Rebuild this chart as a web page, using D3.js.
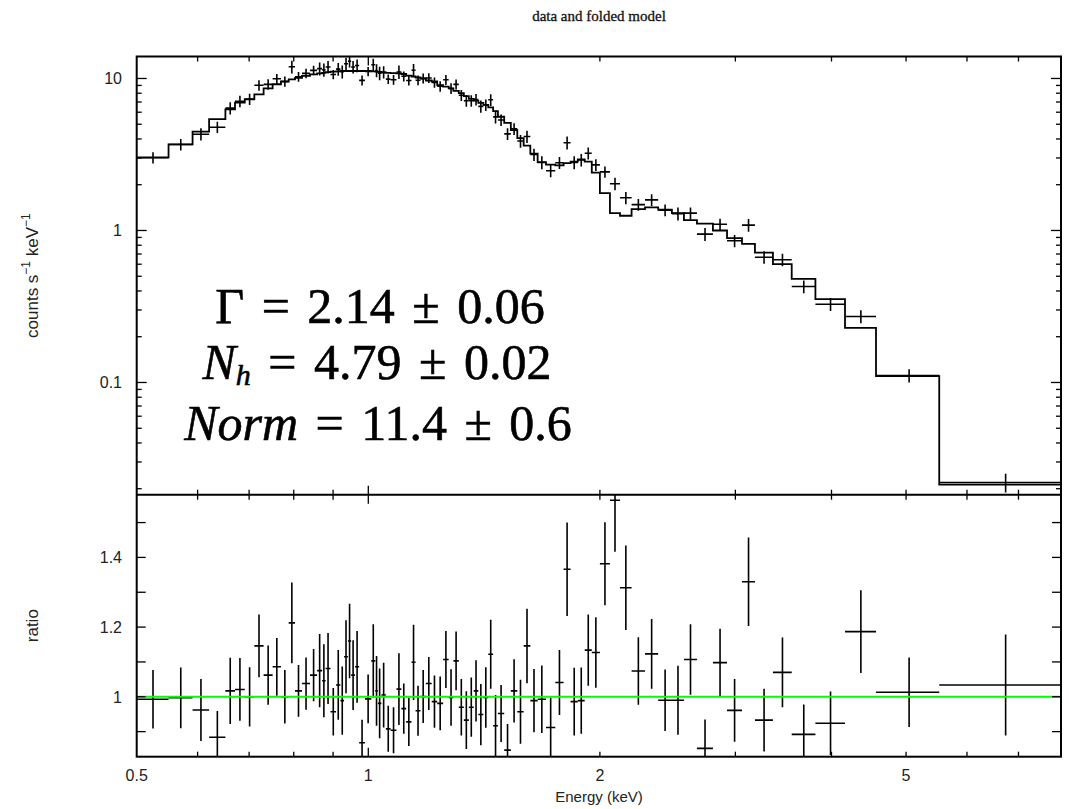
<!DOCTYPE html>
<html><head><meta charset="utf-8">
<script src="https://cdn.jsdelivr.net/npm/d3@7"></script>
<style>body{margin:0;background:#fff}svg{display:block}</style>
</head><body>
<svg id="chart" width="1069" height="809"></svg>
<script>
// ---- data ----
const binEdges = [0.500,0.550,0.591,0.621,0.652,0.671,0.691,0.711,0.731,0.751,0.770,0.788,0.803,0.820,0.840,0.858,0.871,0.880,0.893,0.908,0.920,0.930,0.941,0.950,0.961,0.973,0.990,1.009,1.021,1.029,1.040,1.054,1.069,1.088,1.104,1.120,1.138,1.152,1.169,1.188,1.209,1.229,1.251,1.272,1.290,1.311,1.331,1.351,1.371,1.390,1.411,1.432,1.453,1.474,1.502,1.532,1.562,1.592,1.624,1.660,1.702,1.750,1.794,1.832,1.872,1.911,1.952,2.000,2.061,2.124,2.199,2.289,2.381,2.481,2.572,2.674,2.805,2.926,3.060,3.181,3.357,3.551,3.812,4.165,4.570,5.522,7.950];
const modelRate = [3.03,3.69,4.47,5.41,6.27,6.93,7.30,7.87,8.62,9.16,9.55,9.85,10.1,10.4,10.65,10.8,10.9,11.0,11.1,11.15,11.2,11.2,11.2,11.2,11.2,11.2,11.2,11.15,11.1,11.05,10.95,10.9,10.85,10.8,10.7,10.45,10.3,10.15,10.0,9.7,9.55,9.05,8.85,8.62,8.3,8.0,7.65,7.35,7.15,6.9,6.7,6.45,6.1,5.6,5.1,4.58,4.05,3.62,3.2,2.82,2.71,2.68,2.77,2.84,2.94,2.84,2.40,1.76,1.30,1.25,1.38,1.42,1.37,1.30,1.17,1.11,1.00,0.89,0.816,0.715,0.60,0.48,0.354,0.229,0.11,0.0213];
const countRate = [3.01,3.68,4.30,4.78,6.38,7.08,7.30,9.02,9.15,9.95,9.55,11.94,10.27,10.80,11.31,11.61,11.40,11.89,10.62,11.53,11.08,12.49,12.99,11.89,12.16,9.72,11.13,12.30,11.29,10.84,11.00,9.90,9.81,11.04,10.34,9.70,11.32,9.74,10.01,10.07,9.42,8.88,9.80,8.60,9.15,7.76,7.14,7.13,7.27,6.55,6.69,7.24,5.59,5.33,4.32,4.66,3.88,4.15,3.16,2.80,2.47,2.79,3.78,2.80,2.91,3.22,2.70,2.43,2.03,1.64,1.48,1.59,1.36,1.29,1.30,0.946,1.098,0.855,1.085,0.667,0.642,0.428,0.327,0.272,0.111,0.0220];
const countErr = [0.255,0.321,0.398,0.406,0.596,0.624,0.621,0.708,0.733,0.760,0.735,1.143,0.747,0.780,0.799,1.134,1.145,1.122,0.755,1.115,1.098,1.176,1.198,1.120,1.154,0.739,0.784,1.171,1.110,1.105,1.018,0.719,0.716,1.112,0.770,0.721,1.112,0.731,0.760,0.737,0.716,0.697,0.726,0.698,0.697,0.648,0.635,0.625,0.629,0.607,0.583,0.639,0.537,0.459,0.383,0.417,0.373,0.387,0.291,0.274,0.233,0.249,0.371,0.275,0.279,0.290,0.242,0.209,0.192,0.151,0.134,0.142,0.121,0.129,0.118,0.092,0.097,0.080,0.104,0.064,0.060,0.041,0.032,0.027,0.011,0.0031];
const ratioVal = [0.993,0.997,0.962,0.884,1.017,1.021,1.000,1.146,1.062,1.086,1.000,1.212,1.017,1.038,1.062,1.075,1.046,1.081,0.957,1.034,0.989,1.115,1.160,1.062,1.086,0.868,0.994,1.103,1.017,0.981,1.005,0.908,0.904,1.022,0.966,0.928,1.099,0.960,1.001,1.038,0.986,0.981,1.107,0.998,1.103,0.970,0.933,0.970,1.017,0.949,0.998,1.122,0.917,0.952,0.847,1.017,0.957,1.146,0.989,0.993,0.912,1.041,1.366,0.986,0.989,1.134,1.127,1.382,1.564,1.313,1.074,1.123,0.990,0.990,1.107,0.852,1.098,0.961,1.330,0.933,1.070,0.892,0.924,1.187,1.013,1.034];
const ratioErr = [0.084,0.087,0.089,0.075,0.095,0.090,0.085,0.090,0.085,0.083,0.077,0.116,0.074,0.075,0.075,0.105,0.105,0.102,0.068,0.100,0.098,0.105,0.107,0.100,0.103,0.066,0.070,0.105,0.100,0.100,0.093,0.066,0.066,0.103,0.072,0.069,0.108,0.072,0.076,0.076,0.075,0.077,0.082,0.081,0.084,0.081,0.083,0.085,0.088,0.088,0.087,0.099,0.088,0.082,0.075,0.091,0.092,0.107,0.091,0.097,0.086,0.093,0.134,0.097,0.095,0.102,0.101,0.119,0.148,0.121,0.097,0.100,0.088,0.099,0.101,0.083,0.097,0.090,0.127,0.090,0.100,0.086,0.091,0.119,0.100,0.145];
const xTickValues = [0.5,1,2,5];
const xTickLabels = ["0.5","1","2","5"];
const yTopTickValues = [0.1,1,10];
const yTopTickLabels = ["0.1","1","10"];
const yRatioTickValues = [1,1.2,1.4];
const yRatioTickLabels = ["1","1.2","1.4"];
const fitLines = ["Γ = 2.14 ± 0.06","N_h = 4.79 ± 0.02","Norm = 11.4 ± 0.6"];

// ---- layout ----
const L=136.7, R=1061, T=56.5, M=494.7, B=756.7;
const svg = d3.select("#chart");
const x = d3.scaleLog().domain([0.5,7.95]).range([L,R]);
const yTop = d3.scaleLog().domain([0.01827,13.95]).range([M,T]);
const yRat = d3.scaleLinear().domain([0.828,1.580]).range([B,M]);

const n = Math.min(modelRate.length, countRate.length, ratioVal.length, binEdges.length-1);
const bins = d3.range(n).map(i=>({lo:binEdges[i],hi:binEdges[i+1],c:(binEdges[i]+binEdges[i+1])/2,
  m:modelRate[i],d:countRate[i],de:countErr[i],r:ratioVal[i],re:ratioErr[i]}));

const defs = svg.append("defs");
defs.append("clipPath").attr("id","cTop").append("rect").attr("x",L).attr("y",T).attr("width",R-L).attr("height",M-T);
defs.append("clipPath").attr("id","cBot").append("rect").attr("x",L).attr("y",M).attr("width",R-L).attr("height",B-M);

// title
svg.append("text").attr("x",599).attr("y",21).attr("text-anchor","middle")
  .attr("font-family","Liberation Serif, serif").attr("font-size",15).attr("fill","#111")
  .attr("stroke","#111").attr("stroke-width",0.3)
  .text("data and folded model");

// ---- top panel ----
const gTop = svg.append("g").attr("clip-path","url(#cTop)");
const stepPts = bins.map(b=>[b.lo,b.m]).concat([[bins[n-1].hi,bins[n-1].m]]);
gTop.append("path").attr("d", d3.line().x(p=>x(p[0])).y(p=>yTop(p[1])).curve(d3.curveStepAfter)(stepPts))
  .attr("fill","none").attr("stroke","#000").attr("stroke-width",1.8);
const crossT = gTop.append("g").attr("stroke","#000").attr("stroke-width",1.6);
bins.forEach(b=>{
  crossT.append("line").attr("x1",x(b.lo)).attr("x2",x(b.hi)).attr("y1",yTop(b.d)).attr("y2",yTop(b.d));
  crossT.append("line").attr("x1",x(b.c)).attr("x2",x(b.c)).attr("y1",yTop(b.d+b.de)).attr("y2",yTop(Math.max(b.d-b.de,1e-4)));
});

// ---- bottom panel ----
const gBot = svg.append("g").attr("clip-path","url(#cBot)");
const crossB = gBot.append("g").attr("stroke","#000").attr("stroke-width",1.6);
bins.forEach(b=>{
  crossB.append("line").attr("x1",x(b.lo)).attr("x2",x(b.hi)).attr("y1",yRat(b.r)).attr("y2",yRat(b.r));
  crossB.append("line").attr("x1",x(b.c)).attr("x2",x(b.c)).attr("y1",yRat(b.r+b.re)).attr("y2",yRat(b.r-b.re));
});
gBot.append("line").attr("x1",L).attr("x2",R).attr("y1",yRat(1)).attr("y2",yRat(1))
  .attr("stroke","#00ff00").attr("stroke-width",2);

// ---- frames & ticks ----
const tk = svg.append("g").attr("stroke","#000").attr("stroke-width",1.3);
const xMinor = [0.6,0.7,0.8,0.9,2,3,4,5,6,7], xMajor=[1];
function xTicks(yEdge, dir){
  xMinor.forEach(v=>tk.append("line").attr("x1",x(v)).attr("x2",x(v)).attr("y1",yEdge).attr("y2",yEdge+dir*5));
  xMajor.forEach(v=>tk.append("line").attr("x1",x(v)).attr("x2",x(v)).attr("y1",yEdge).attr("y2",yEdge+dir*9));
}
xTicks(T,1); xTicks(M,-1); xTicks(M,1); xTicks(B,-1);
const yMinor=[], yMajor=[0.1,1,10];
[0.01,0.1,1,10].forEach(dec=>{for(let k=2;k<=9;k++){const v=dec*k; if(v>0.01827&&v<13.95) yMinor.push(v);}});
yMinor.forEach(v=>{
  tk.append("line").attr("x1",L).attr("x2",L+5).attr("y1",yTop(v)).attr("y2",yTop(v));
  tk.append("line").attr("x1",R).attr("x2",R-5).attr("y1",yTop(v)).attr("y2",yTop(v));
});
yMajor.forEach(v=>{
  tk.append("line").attr("x1",L).attr("x2",L+10).attr("y1",yTop(v)).attr("y2",yTop(v));
  tk.append("line").attr("x1",R).attr("x2",R-10).attr("y1",yTop(v)).attr("y2",yTop(v));
});
[0.9,1.0,1.1,1.2,1.3,1.4,1.5].forEach(v=>{
  tk.append("line").attr("x1",L).attr("x2",L+9).attr("y1",yRat(v)).attr("y2",yRat(v));
  tk.append("line").attr("x1",R).attr("x2",R-9).attr("y1",yRat(v)).attr("y2",yRat(v));
});
svg.append("rect").attr("x",L).attr("y",T).attr("width",R-L).attr("height",B-T)
  .attr("fill","none").attr("stroke","#000").attr("stroke-width",2);
svg.append("line").attr("x1",L).attr("x2",R).attr("y1",M).attr("y2",M).attr("stroke","#000").attr("stroke-width",2);

// ---- tick labels ----
const lab = svg.append("g").attr("font-family","Liberation Sans, Arial, sans-serif").attr("font-size",16).attr("fill","#222");
xTickValues.forEach((v,i)=>lab.append("text").attr("x",x(v)).attr("y",781).attr("text-anchor","middle").text(xTickLabels[i]));
yTopTickValues.forEach((v,i)=>lab.append("text").attr("x",122).attr("y",yTop(v)+6).attr("text-anchor","end").text(yTopTickLabels[i]));
yRatioTickValues.forEach((v,i)=>lab.append("text").attr("x",122).attr("y",yRat(v)+6).attr("text-anchor","end").text(yRatioTickLabels[i]));

const axl = svg.append("g").attr("font-family","Liberation Sans, Arial, sans-serif").attr("fill","#222");
axl.append("text").attr("x",599).attr("y",802).attr("text-anchor","middle").attr("font-size",15).text("Energy (keV)");
const yl = axl.append("text").attr("transform",`translate(38,${(T+M)/2}) rotate(-90)`).attr("text-anchor","middle").attr("font-size",17);
yl.append("tspan").text("counts s");
yl.append("tspan").attr("dy",-8).attr("font-size",12).text("−1");
yl.append("tspan").attr("dy",8).text(" keV");
yl.append("tspan").attr("dy",-8).attr("font-size",12).text("−1");
axl.append("text").attr("transform",`translate(38,${(M+B)/2}) rotate(-90)`).attr("text-anchor","middle").attr("font-size",17).text("ratio");

// ---- fit annotation ----
const ann = svg.append("g").attr("font-family","Liberation Serif, 'DejaVu Serif', serif").attr("font-size",50)
  .attr("fill","#000").attr("stroke","#000").attr("stroke-width",0.6)
  .attr("text-anchor","middle").attr("word-spacing",5);
const t1 = ann.append("text").attr("x",380).attr("y",323);
t1.text(fitLines[0]);
const t2 = ann.append("text").attr("x",377).attr("y",379);
t2.append("tspan").attr("font-style","italic").text("N");
t2.append("tspan").attr("font-style","italic").attr("font-size",30).attr("dy",6).text("h");
t2.append("tspan").attr("dy",-6).text(" " + fitLines[1].split(" ").slice(1).join(" "));
const t3 = ann.append("text").attr("x",378).attr("y",440);
t3.append("tspan").attr("font-style","italic").text("Norm");
t3.append("tspan").text(" " + fitLines[2].split(" ").slice(1).join(" "));
</script>
</body></html>
